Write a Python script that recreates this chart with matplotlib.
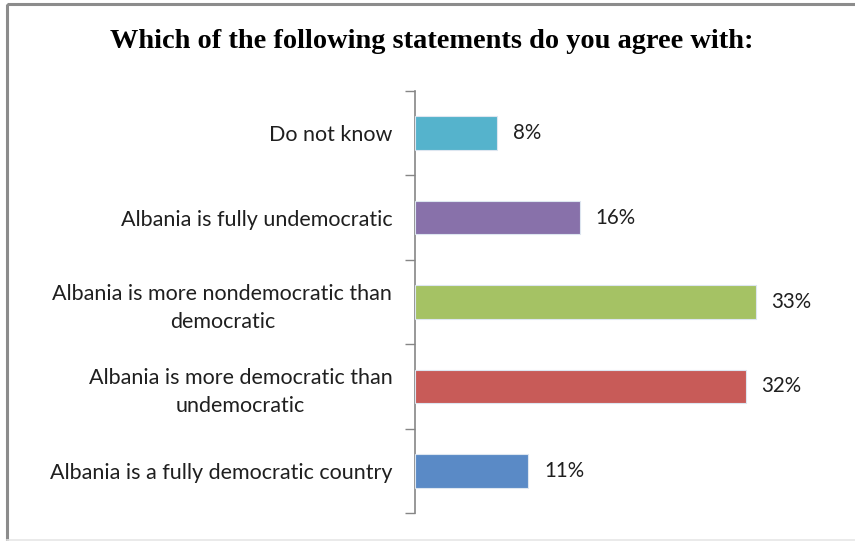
import matplotlib
matplotlib.use("Agg")
import matplotlib.pyplot as plt
from matplotlib.patches import Rectangle
import numpy as np

# Survey answers, listed bottom to top
categories = [
    "Albania is a fully democratic country",
    "Albania is more democratic than\nundemocratic",
    "Albania is more nondemocratic than\ndemocratic",
    "Albania is fully undemocratic",
    "Do not know",
]
shares = [11, 32, 33, 16, 8]
bar_colors = ["#5A8AC6", "#C85B58", "#A5C264", "#8871AA", "#55B3CC"]
title = "Which of the following statements do you agree with:"

W, H = 855, 541
fig = plt.figure(figsize=(W / 100, H / 100), dpi=100)
fig.patch.set_facecolor("white")

# chart frame
fig.add_artist(Rectangle((6.5 / W, 1 - 3.5 / H), 2.0, -2.0, transform=fig.transFigure,
                         fill=False, edgecolor="#8c8c8c", linewidth=2.2, zorder=0))
fig.add_artist(plt.Line2D([6.5 / W, 1], [1 - 539.5 / H] * 2, transform=fig.transFigure,
                          color="#e6e6e6", linewidth=1.2))

left, right = 414.5 / W, 828.5 / W
top, bottom = 1 - 91 / H, 1 - 513 / H
ax = fig.add_axes([left, bottom, right - left, top - bottom])

y = np.arange(len(categories))
ax.barh(y, shares, height=0.4, color=bar_colors, edgecolor="#dde6f0", linewidth=0.8, zorder=3)

ax.set_xlim(0, 40)
ax.set_ylim(-0.5, len(categories) - 0.5)

for yi, v in zip(y, shares):
    ax.text(v + 1.5, yi, f"{v}%", va="center", ha="left", fontsize=14.8,
            family="Lato", color="#1f1f1f")

ax.set_yticks(y)
ax.set_yticklabels(categories, fontsize=15.5, family="Lato", color="#1f1f1f",
                   multialignment="center", linespacing=1.5)
ax.tick_params(axis="y", which="major", length=0, pad=16)
ax.set_yticks(np.arange(-0.5, len(categories)), minor=True)
ax.tick_params(axis="y", which="minor", length=7, width=1, color="#868686", direction="out")

ax.set_xticks([])
for side in ("top", "right", "bottom"):
    ax.spines[side].set_visible(False)
ax.spines["left"].set_color("#868686")
ax.spines["left"].set_linewidth(1.2)

fig.text(432 / W, 1 - 42 / H, title, ha="center", va="center", fontsize=20.4,
         family="Liberation Serif", fontweight="bold", color="black")

fig.savefig("out.png", dpi=100, facecolor="white")
